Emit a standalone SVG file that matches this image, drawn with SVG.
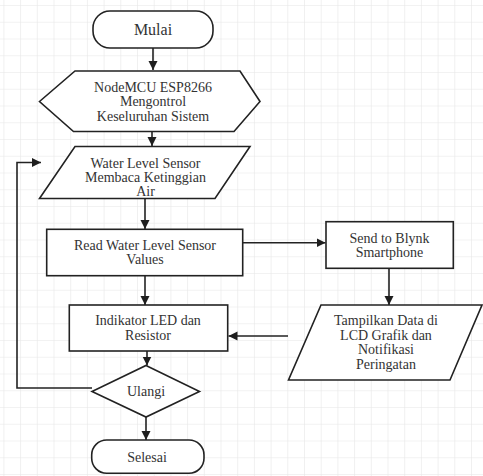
<svg xmlns="http://www.w3.org/2000/svg" width="483" height="476" viewBox="0 0 483 476">
<defs>
<pattern id="grid" x="3.4" y="5" width="16.7" height="16.75" patternUnits="userSpaceOnUse">
<path d="M0,0 H16.7 M0,0 V16.75" fill="none" stroke="#e6e6e6" stroke-width="1.2"/>
</pattern>
<marker id="arr" markerUnits="userSpaceOnUse" markerWidth="10" markerHeight="10" refX="9" refY="5" orient="auto">
<path d="M0,0.5 L9,5 L0,9.5 z" fill="#1e1e1e"/>
</marker>
<style>
.s{fill:#fff;stroke:#222;stroke-width:1.6}
.c{fill:none;stroke:#222;stroke-width:1.6}
.t{font-family:"Liberation Serif","Times New Roman",serif;font-size:14px;fill:#333;text-anchor:middle}
</style>
</defs>
<rect width="483" height="476" fill="#fff"/>
<rect width="483" height="476" fill="url(#grid)"/>

<g id="connectors">
<path class="c" d="M153,48 V70" marker-end="url(#arr)"/>
<path class="c" d="M152,132 V146" marker-end="url(#arr)"/>
<path class="c" d="M145,198.5 V229" marker-end="url(#arr)"/>
<path class="c" d="M145,276 V305" marker-end="url(#arr)"/>
<path class="c" d="M147,351 V365.5" marker-end="url(#arr)"/>
<path class="c" d="M146,417 V440" marker-end="url(#arr)"/>
<path class="c" d="M243,242.7 H325.5" marker-end="url(#arr)"/>
<path class="c" d="M389,268.5 V305" marker-end="url(#arr)"/>
<path class="c" d="M288,336 H228.5" marker-end="url(#arr)"/>
<path class="c" d="M92,388 H17 V162.5 H41" marker-end="url(#arr)"/>
</g>

<g id="mulai">
<rect class="s" x="93" y="11" width="120" height="37" rx="17" ry="17"/>
<text class="t" x="153" y="35" style="font-size:16px">Mulai</text>
</g>

<g id="nodemcu">
<polygon class="s" points="39.5,101.5 75,71 240,71 260,101.5 234,131.5 73.5,131.5"/>
<text class="t" x="153" y="91.5">NodeMCU ESP8266</text>
<text class="t" x="153" y="106">Mengontrol</text>
<text class="t" x="153" y="120.5">Keseluruhan Sistem</text>
</g>

<g id="water-sensor">
<polygon class="s" points="75,146.5 250,146.5 215,198.5 39.5,198.5"/>
<text class="t" x="145.5" y="168">Water Level Sensor</text>
<text class="t" x="145.5" y="182">Membaca Ketinggian</text>
<text class="t" x="145.5" y="196">Air</text>
</g>

<g id="read-values">
<rect class="s" x="46.7" y="229.3" width="196" height="46.4"/>
<text class="t" x="145" y="249.5">Read Water Level Sensor</text>
<text class="t" x="145" y="264">Values</text>
</g>

<g id="send-blynk">
<rect class="s" x="326" y="221.7" width="127.3" height="46.6"/>
<text class="t" x="389.5" y="242.5">Send to Blynk</text>
<text class="t" x="389.5" y="256.5">Smartphone</text>
</g>

<g id="tampilkan">
<polygon class="s" points="321,305 482,305 450,380 288.5,380"/>
<text class="t" x="386" y="325">Tampilkan Data di</text>
<text class="t" x="386" y="339.5">LCD Grafik dan</text>
<text class="t" x="386" y="354">Notifikasi</text>
<text class="t" x="386" y="368.5">Peringatan</text>
</g>

<g id="indikator">
<rect class="s" x="69.3" y="305" width="158.4" height="46"/>
<text class="t" x="148" y="324.5">Indikator LED dan</text>
<text class="t" x="148" y="339.5">Resistor</text>
</g>

<g id="ulangi">
<polygon class="s" points="146,365.5 199.5,391.5 146,417 92,391.5"/>
<text class="t" x="146" y="396">Ulangi</text>
</g>

<g id="selesai">
<rect class="s" x="91.7" y="440" width="112.3" height="33.3" rx="15" ry="15"/>
<text class="t" x="147" y="461.5">Selesai</text>
</g>
</svg>
